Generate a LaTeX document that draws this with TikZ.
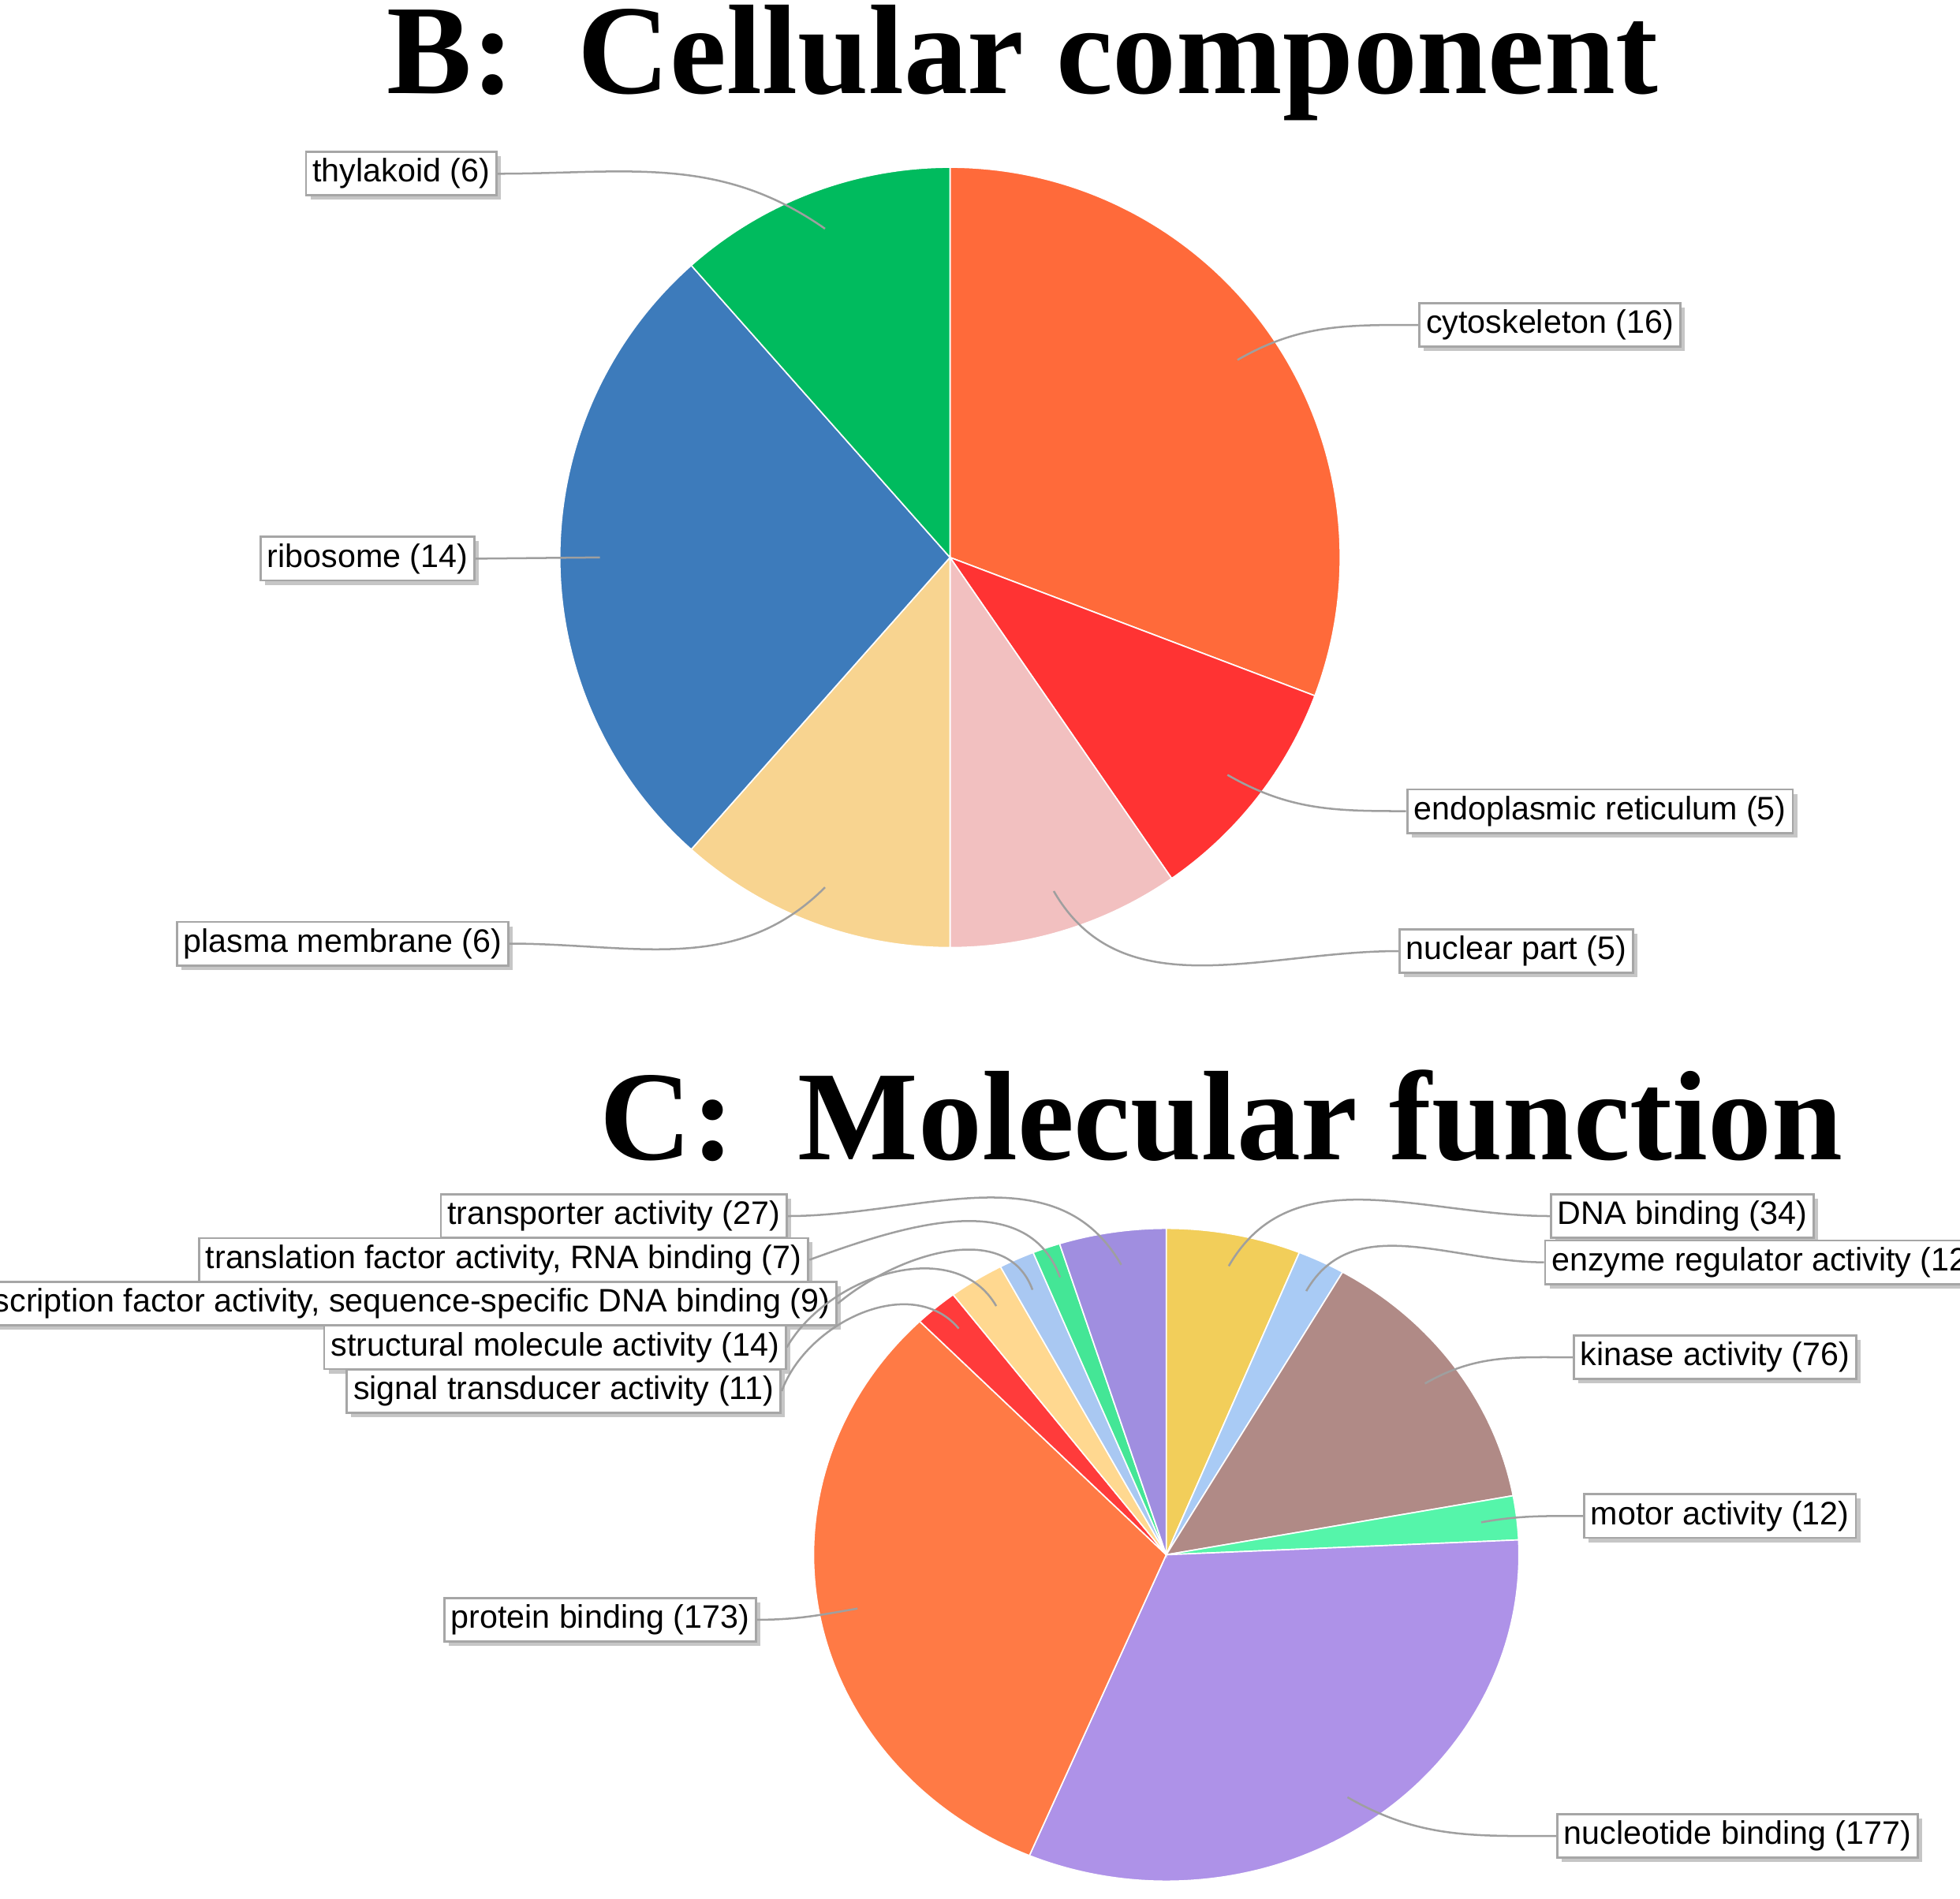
\documentclass[tikz,border=0pt]{standalone}
\usepackage{fontspec}
\setmainfont{Liberation Serif}
\newfontfamily\lblfont{Liberation Sans}
\usetikzlibrary{shadows}

\begin{document}
\begin{tikzpicture}[x=0.01cm,y=0.01cm,
  lbl/.style={draw=gray!70,line width=0.5pt,fill=white,inner xsep=1.5pt,inner ysep=1.5pt,
    minimum height=0.3cm,font=\lblfont\fontsize{7.4}{8}\selectfont,
    drop shadow={shadow xshift=1pt,shadow yshift=-1pt,fill=gray!45,opacity=1}},
  lead/.style={draw=gray!75,line width=0.45pt},
  ttl/.style={font=\fontsize{29}{32}\selectfont\bfseries}]
  \useasboundingbox (0,0) rectangle (1568,-1519);

  % titles
  \node[ttl] (titleB) at (818,-50) {B:\ \ Cellular component};
  \node[ttl] (titleC) at (977,-893) {C:\ \ Molecular function};

  % pie B
  \definecolor{cyto}{HTML}{FF6A3A}
  \definecolor{er}{HTML}{FF3333}
  \definecolor{nuc}{HTML}{F2C0C0}
  \definecolor{plasma}{HTML}{F8D490}
  \definecolor{ribo}{HTML}{3D7BBB}
  \definecolor{thyla}{HTML}{00BB5E}
  \coordinate (cB) at (760,-446);
  \foreach \sa/\ea/\col in {90/-20.77/cyto,-20.77/-55.38/er,-55.38/-90/nuc,-90/-131.54/plasma,-131.54/-228.46/ribo,-228.46/-270/thyla}
    \fill[\col,draw=white,line width=0.3pt] (cB) -- ++(\sa:3.12cm) arc[start angle=\sa,end angle=\ea,radius=3.12cm] -- cycle;

  % pie C
  \definecolor{dna}{HTML}{F2CE5A}
  \definecolor{enz}{HTML}{A9CBF5}
  \definecolor{kin}{HTML}{B08A86}
  \definecolor{mot}{HTML}{55F5AA}
  \definecolor{ntd}{HTML}{AE92E8}
  \definecolor{prot}{HTML}{FF7A45}
  \definecolor{sig}{HTML}{FF3B3B}
  \definecolor{struc}{HTML}{FFD890}
  \definecolor{tscr}{HTML}{A9C8F2}
  \definecolor{tsl}{HTML}{44E696}
  \definecolor{tsp}{HTML}{A08EE0}
  \coordinate (cC) at (933,-1244);
  \foreach \sa/\ea/\col in {90/67.83/dna,67.83/60/enz,60/10.43/kin,10.43/2.61/mot,2.61/-112.83/ntd,
      -112.83/-225.65/prot,-225.65/-232.83/sig,-232.83/-241.96/struc,-241.96/-247.83/tscr,
      -247.83/-252.39/tsl,-252.39/-270/tsp}
    \fill[\col,draw=white,line width=0.3pt] (cC) -- ++(\sa:2.82cm and 2.61cm)
      arc[start angle=\sa,end angle=\ea,x radius=2.82cm,y radius=2.61cm] -- cycle;

  % labels B
  \node[lbl] (thylakoid) at (321,-139) {thylakoid (6)};
  \node[lbl] (cytoskel) at (1240,-260) {cytoskeleton (16)};
  \node[lbl] (ribosome) at (294,-447) {ribosome (14)};
  \node[lbl] (endoret) at (1280,-649) {endoplasmic reticulum (5)};
  \node[lbl] (plasmamem) at (274,-755) {plasma membrane (6)};
  \node[lbl] (nuclear) at (1213,-761) {nuclear part (5)};
  \coordinate (pThy) at (660,-183);
  \coordinate (pCyt) at (990,-288);
  \coordinate (pRib) at (480,-446);
  \coordinate (pER) at (982,-620);
  \coordinate (pPla) at (660,-710);
  \coordinate (pNuc) at (843,-713);
  \draw[lead] (thylakoid.east) to[out=0,in=145] (pThy);
  \draw[lead] (cytoskel.west) to[out=180,in=30] (pCyt);
  \draw[lead] (ribosome.east) -- (pRib);
  \draw[lead] (endoret.west) to[out=180,in=-30] (pER);
  \draw[lead] (plasmamem.east) to[out=0,in=-135] (pPla);
  \draw[lead] (nuclear.west) to[out=180,in=-60] (pNuc);

  % labels C
  \node[lbl] (transporter) at (491,-973) {transporter activity (27)};
  \node[lbl] (translation) at (403,-1008) {translation factor activity, RNA binding (7)};
  \node[lbl] (transcription) at (307,-1043) {transcription factor activity, sequence-specific DNA binding (9)};
  \node[lbl] (structural) at (444,-1078) {structural molecule activity (14)};
  \node[lbl] (signal) at (451,-1113) {signal transducer activity (11)};
  \node[lbl] (protein) at (480,-1296) {protein binding (173)};
  \node[lbl] (dnabind) at (1346,-973) {DNA binding (34)};
  \node[lbl] (enzyme) at (1412,-1010) {enzyme regulator activity (12)};
  \node[lbl] (kinase) at (1372,-1086) {kinase activity (76)};
  \node[lbl] (motor) at (1376,-1213) {motor activity (12)};
  \node[lbl] (nucleotide) at (1390,-1469) {nucleotide binding (177)};
  \coordinate (pTsp) at (897,-1012);
  \coordinate (pTsl) at (848,-1022);
  \coordinate (pTsc) at (826,-1032);
  \coordinate (pStr) at (797,-1045);
  \coordinate (pSig) at (767,-1063);
  \coordinate (pPro) at (686,-1287);
  \coordinate (pDna) at (983,-1013);
  \coordinate (pEnz) at (1045,-1033);
  \coordinate (pKin) at (1140,-1107);
  \coordinate (pMot) at (1185,-1218);
  \coordinate (pNtd) at (1078,-1438);
  \draw[lead] (transporter.east) to[out=0,in=120] (pTsp);
  \draw[lead] (translation.east) to[out=20,in=110] (pTsl);
  \draw[lead] (transcription.east) to[out=40,in=110] (pTsc);
  \draw[lead] (structural.east) to[out=60,in=120] (pStr);
  \draw[lead] (signal.east) to[out=70,in=130] (pSig);
  \draw[lead] (protein.east) to[out=0,in=190] (pPro);
  \draw[lead] (dnabind.west) to[out=180,in=60] (pDna);
  \draw[lead] (enzyme.west) to[out=180,in=60] (pEnz);
  \draw[lead] (kinase.west) to[out=180,in=30] (pKin);
  \draw[lead] (motor.west) to[out=180,in=10] (pMot);
  \draw[lead] (nucleotide.west) to[out=180,in=-30] (pNtd);
\end{tikzpicture}
\end{document}
